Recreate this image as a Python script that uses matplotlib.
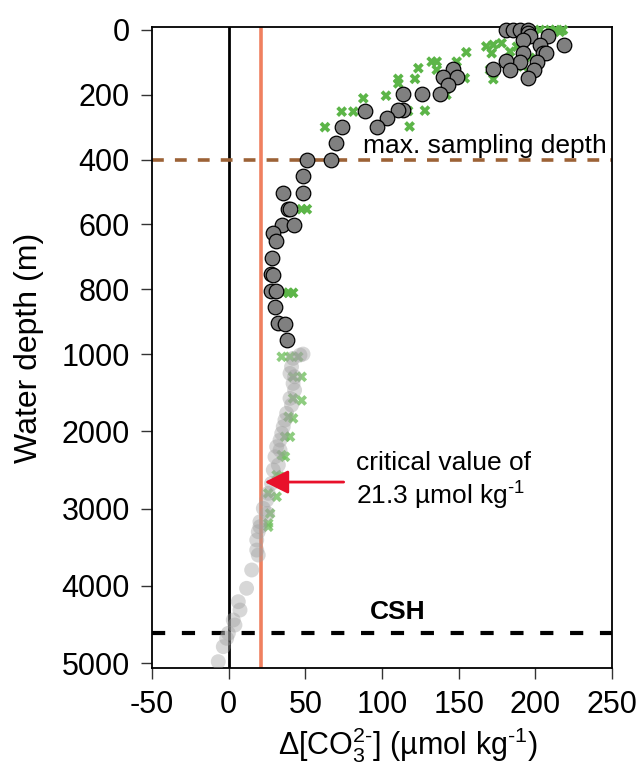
"""Delta carbonate ion profile vs water depth (broken-scale depth axis)."""

import matplotlib

matplotlib.use("Agg")
import matplotlib.pyplot as plt  # noqa: E402
import numpy as np  # noqa: E402

plt.rcParams["font.family"] = ["Liberation Sans", "DejaVu Sans"]
plt.rcParams["mathtext.fontset"] = "custom"
plt.rcParams["mathtext.rm"] = "Liberation Sans"
plt.rcParams["mathtext.it"] = "Liberation Sans:italic"
plt.rcParams["axes.unicode_minus"] = False

# ---- data (x = delta CO3, y = depth in m)
upper_dco3 = [181, 185.7, 190, 195.4, 195, 196.5, 208.5, 192, 219, 203, 205, 207, 192,
              190, 181, 201, 199, 183.5, 172.6, 195, 146.5, 140, 148.7, 143, 138, 126,
              114, 114, 110.6, 103, 96.5, 89, 73.7, 70, 67, 51, 48.7, 35.6, 48.2, 39,
              40, 34.6, 42.8, 29, 30.9, 28, 27.4, 28.7, 27.4, 30.9, 30.2, 32.4, 36.7, 38.2]
upper_depth = [0, 0, 0, 0, 10, 20, 20, 31, 46, 46, 70, 72, 70,
               98, 96, 98, 123, 123, 121, 149, 121, 146, 146, 170, 198, 198,
               198, 247, 247, 273, 298, 249, 298, 348, 401, 401, 451, 502, 502, 553,
               553, 602, 602, 628, 651, 705, 754, 756, 805, 805, 854, 903, 907, 957]

upper_green_dco3 = [62.8, 73.7, 81.3, 87.8, 102.6, 110.6, 110.6, 121.5, 123.7, 132.4, 135.7,
                    135.7, 148.7, 155, 154, 142, 128, 118, 117, 168, 172.6, 171.5, 178,
                    172.6, 170.4, 183.5, 188, 192, 196.5, 203, 209.6, 216, 218, 213,
                    51, 47.6, 39, 42, 35.6]
upper_green_depth = [300, 252, 252, 211, 203, 165, 151, 151, 118, 98, 98,
                     123, 98, 69, 149, 200, 249, 298, 250, 51, 46, 72, 41,
                     152, 123, 67, 52, 113, 86, 0, 0, 6, 0, 0,
                     553, 553, 811, 811, 811]

lower_dco3 = [48.5, 46.5, 42, 41, 40, 43, 42, 43, 40, 41, 37.8, 36.7, 35.6, 34.6, 33.5,
              31.3, 33.5, 30.2, 32.4, 29.1, 28, 25.8, 24.8, 22.6, 25.2, 20.4, 19.3, 20.4,
              18.3, 18.3, 19.3, 15, 11.7, 6.3, 7.4, 3, 4.1, -0.2, -1.3, -3.5, -6.8]
lower_depth = [1000, 1013, 1056, 1164, 1250, 1294, 1380, 1466, 1573, 1660, 1767, 1854, 1940,
               2026, 2113, 2199, 2242, 2329, 2436, 2500, 2673, 2802, 2889, 2997, 3062, 3170,
               3299, 3234, 3406, 3536, 3600, 3794, 4031, 4204, 4312, 4441, 4506, 4613, 4678,
               4786, 4980]

lower_green_dco3 = [34.6, 45.4, 40, 42, 47.6, 42, 47.6, 39, 42, 36.7, 40, 34.6, 36.7,
                    33.5, 31.3, 25.8, 31.3, 27, 25.8, 25.8]
lower_green_depth = [1035, 1035, 1035, 1294, 1294, 1573, 1600, 1811, 1832, 2070, 2070,
                     2307, 2329, 2587, 2566, 2802, 2846, 3062, 3191, 3234]

CRITICAL = 21.3
MAX_SAMPLING = 400
CSH_DEPTH = 4615
y_ticks = [0, 200, 400, 600, 800, 1000, 2000, 3000, 4000, 5000]
x_ticks = [-50, 0, 50, 100, 150, 200, 250]

# depth axis: 0-1000 m stretched, below 1000 m compressed
BREAK = 1000.0
RATIO = 0.2384


def fwd(y):
    y = np.asarray(y, dtype=float)
    return np.where(y <= BREAK, y, BREAK + (y - BREAK) * RATIO)


def inv(t):
    t = np.asarray(t, dtype=float)
    return np.where(t <= BREAK, t, BREAK + (t - BREAK) / RATIO)


fig = plt.figure(figsize=(6.37, 7.78), dpi=100)
ax = fig.add_axes([0.2386, 0.1414, 0.7222, 0.8239])
ax.set_yscale("function", functions=(fwd, inv))

# reference lines
ax.axvline(0, color="black", lw=2.0, zorder=1)
ax.axvline(CRITICAL, color="#f0805f", lw=2.6, zorder=1)
lw = 2.6
ax.axhline(MAX_SAMPLING, color="#9c6236", lw=lw, dashes=(8.5 / lw, 8 / lw), zorder=1)
lw = 3.0
ax.axhline(CSH_DEPTH, color="black", lw=lw, dashes=(9.5 / lw, 12 / lw), zorder=1)

# deep (model) points, faded
ax.scatter(lower_green_dco3, lower_green_depth, marker="X", s=60, color="#72c060",
           edgecolors="none", alpha=0.8, zorder=2)
ax.scatter(lower_dco3, lower_depth, s=115, color="#a0a0a0", edgecolors="none",
           alpha=0.42, zorder=3)

# upper points
ax.scatter(upper_green_dco3, upper_green_depth, marker="X", s=60, color="#5cb548",
           edgecolors="none", zorder=4, clip_on=False)
ax.scatter(upper_dco3, upper_depth, s=110, color="#808080", edgecolors="black",
           linewidths=0.9, zorder=5, clip_on=False)

ax.text(87.5, 358, "max. sampling depth", fontsize=19, ha="left", va="center", zorder=6)
ax.text(110.4, 4340, "CSH", fontsize=19, fontweight="bold", ha="center", va="center")
ax.text(83, 2644, "critical value of\n21.3 µmol kg$^{\\text{-}1}$", fontsize=19, ha="left",
        va="center", linespacing=1.2)
ax.annotate("", xy=(23.5, 2656), xytext=(75, 2656),
            arrowprops=dict(arrowstyle="-|>", color="#e8102a", lw=2.0, mutation_scale=36,
                            shrinkA=0, shrinkB=0))

ax.set_xlim(-50, 250)
ax.set_ylim(5062, -9)
ax.set_xticks(x_ticks)
ax.set_yticks(y_ticks)
ax.tick_params(axis="both", labelsize=22, length=8, width=1.0, color="#333333", pad=8)
for spine in ax.spines.values():
    spine.set_linewidth(1.3)

ax.set_ylabel("Water depth (m)", fontsize=23)
ax.yaxis.set_label_coords(-0.235, 0.5)
ax.set_xlabel(r"$\Delta$[CO$_3^{2\text{-}}$] (µmol kg$^{\text{-}1}$)", fontsize=22)
ax.xaxis.set_label_coords(0.557, -0.09)

fig.savefig("out.png", dpi=100)
